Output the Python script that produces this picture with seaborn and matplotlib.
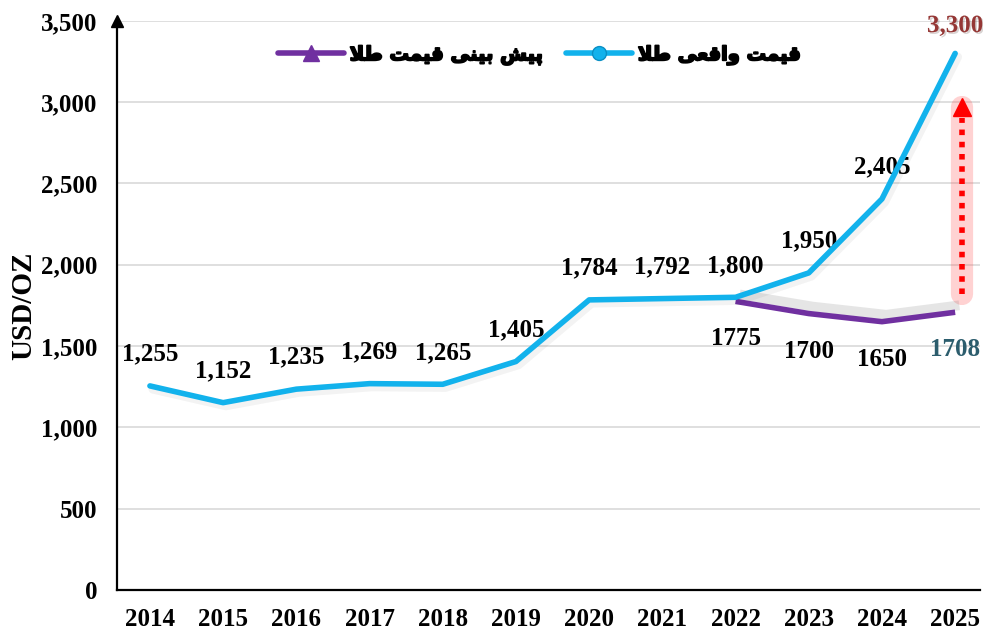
import matplotlib
matplotlib.use("Agg")
import matplotlib.pyplot as plt
import matplotlib.patheffects as pe
from matplotlib.lines import Line2D
import seaborn as sns

years = [2014, 2015, 2016, 2017, 2018, 2019, 2020, 2021, 2022, 2023, 2024, 2025]
actual = [1255, 1152, 1235, 1269, 1265, 1405, 1784, 1792, 1800, 1950, 2405, 3300]
forecast_years = [2022, 2023, 2024, 2025]
forecast = [1775, 1700, 1650, 1708]
yticks = [0, 500, 1000, 1500, 2000, 2500, 3000, 3500]

label_actual = "قیمت واقعی طلا"
label_forecast = "پیش بینی قیمت طلا"

BLUE = "#12B2EC"
PURPLE = "#7030A0"

# presentation forms: isolated, final, initial, medial
FORMS = {
    "ا": ("\uFE8D", "\uFE8E", None, None),
    "ب": ("\uFE8F", "\uFE90", "\uFE91", "\uFE92"),
    "پ": ("\uFB56", "\uFB57", "\uFB58", "\uFB59"),
    "ت": ("\uFE95", "\uFE96", "\uFE97", "\uFE98"),
    "ش": ("\uFEB5", "\uFEB6", "\uFEB7", "\uFEB8"),
    "ط": ("\uFEC1", "\uFEC2", "\uFEC3", "\uFEC4"),
    "ع": ("\uFEC9", "\uFECA", "\uFECB", "\uFECC"),
    "ق": ("\uFED5", "\uFED6", "\uFED7", "\uFED8"),
    "ل": ("\uFEDD", "\uFEDE", "\uFEDF", "\uFEE0"),
    "م": ("\uFEE1", "\uFEE2", "\uFEE3", "\uFEE4"),
    "ن": ("\uFEE5", "\uFEE6", "\uFEE7", "\uFEE8"),
    "و": ("\uFEED", "\uFEEE", None, None),
    "ی": ("\uFBFC", "\uFBFD", "\uFBFE", "\uFBFF"),
}


def shape(text):
    """Very small Persian shaper: contextual forms + visual (reversed) order."""
    out = []
    i = 0
    while i < len(text):
        c = text[i]
        if c not in FORMS:
            out.append(c)
            i += 1
            continue
        prev = text[i - 1] if i > 0 else " "
        joins_prev = prev in FORMS and FORMS[prev][2] is not None
        nxt = text[i + 1] if i + 1 < len(text) else " "
        if c == "ل" and nxt == "ا":
            out.append("\uFEFC" if joins_prev else "\uFEFB")
            i += 2
            continue
        joins_next = FORMS[c][2] is not None and nxt in FORMS
        iso, fin, ini, med = FORMS[c]
        if joins_prev and joins_next:
            out.append(med)
        elif joins_prev:
            out.append(fin)
        elif joins_next:
            out.append(ini)
        else:
            out.append(iso)
        i += 1
    return "".join(out)[::-1]


sns.set_theme(style="white")
plt.rcParams["font.family"] = ["Liberation Serif", "DejaVu Serif"]
plt.rcParams["font.weight"] = "bold"
for key in ["text.color", "axes.labelcolor", "xtick.color", "ytick.color"]:
    plt.rcParams[key] = "black"

fig = plt.figure(figsize=(9.83, 6.33), dpi=100)
ax = fig.add_axes([0.119, 0.068, 0.878, 0.899])

for y in yticks[1:]:
    ax.axhline(y, color="#D9D9D9", lw=1.2, zorder=0)

sns.lineplot(x=forecast_years, y=forecast, color=PURPLE, lw=4, ax=ax, solid_capstyle="butt",
             path_effects=[pe.SimpleLineShadow(offset=(3, 5), shadow_color="gray", alpha=0.2,
                                               linewidth=7), pe.Normal()], zorder=3)
sns.lineplot(x=years, y=actual, color=BLUE, lw=4, ax=ax, solid_capstyle="round",
             path_effects=[pe.SimpleLineShadow(offset=(2, -2.5), alpha=0.05, linewidth=6),
                           pe.Normal()], zorder=4)

# value labels
for x, v in zip(years, actual):
    if x == years[-1]:
        ax.annotate(f"{v:,}", (x, v), xytext=(0, 20), textcoords="offset points",
                    ha="center", va="center", fontsize=18, fontweight="bold", color="#953735",
                    path_effects=[pe.withSimplePatchShadow(offset=(1.2, -1.2), alpha=0.18)])
    else:
        ax.annotate(f"{v:,}", (x, v), xytext=(0, 23), textcoords="offset points",
                    ha="center", va="center", fontsize=18, fontweight="bold", color="black")

for x, v in zip(forecast_years, forecast):
    col = "#2C5D6D" if x == forecast_years[-1] else "black"
    ax.annotate(f"{v}", (x, v), xytext=(0, -27), textcoords="offset points",
                ha="center", va="center", fontsize=18, fontweight="bold", color=col)

# red dotted arrow with glow
arr_x = years[-1] + 0.1
ax.plot([arr_x, arr_x], [forecast[-1] + 110, actual[-1] - 330], color="#FF4D4D",
        lw=16, alpha=0.25, solid_capstyle="round", zorder=2)
ax.plot([arr_x, arr_x], [forecast[-1] + 110, actual[-1] - 400], color="red",
        lw=4, linestyle=(0, (1, 1.2)), zorder=3)
ax.plot([arr_x], [actual[-1] - 330], marker="^", color="red", markersize=13, zorder=3)

ax.set_xlim(years[0] - 0.45, years[-1] + 0.34)
ax.set_ylim(0, 3500)
ax.set_xticks(years)
ax.set_xticklabels([str(y) for y in years])
ax.set_yticks(yticks)
ax.set_yticklabels([f"{y:,}" for y in yticks])
ax.tick_params(axis="x", length=0, labelsize=18, pad=13)
ax.tick_params(axis="y", length=4, width=1, direction="out", labelsize=18, pad=10)
for lab in ax.get_xticklabels() + ax.get_yticklabels():
    lab.set_fontweight("bold")
ax.set_ylabel("USD/OZ", fontsize=21, fontweight="bold", labelpad=3)
ax.set_xlabel("")

sns.despine(ax=ax, top=True, right=True)
ax.spines["left"].set_color("black")
ax.spines["bottom"].set_color("black")
ax.spines["left"].set_linewidth(1.6)
ax.spines["bottom"].set_linewidth(1.6)
ax.plot([0], [1], marker="^", color="black", markersize=9, transform=ax.transAxes, clip_on=False)

handles = [
    Line2D([], [], color=PURPLE, lw=4, marker="^", markersize=11, solid_capstyle="round"),
    Line2D([], [], color=BLUE, lw=4, marker="o", markersize=10, markeredgecolor="#0A8FC4"),
]
leg = ax.legend(handles, [shape(label_forecast), shape(label_actual)], ncol=2,
                loc="center", bbox_to_anchor=(0.49, 0.94), frameon=False,
                handlelength=3.4, columnspacing=1.1, handletextpad=0.3,
                prop={"family": ["DejaVu Sans"], "weight": "bold", "size": 14})
for t in leg.get_texts():
    t.set_path_effects([pe.withStroke(linewidth=1.3, foreground="black")])

fig.savefig("out.png", dpi=100, facecolor="white")
